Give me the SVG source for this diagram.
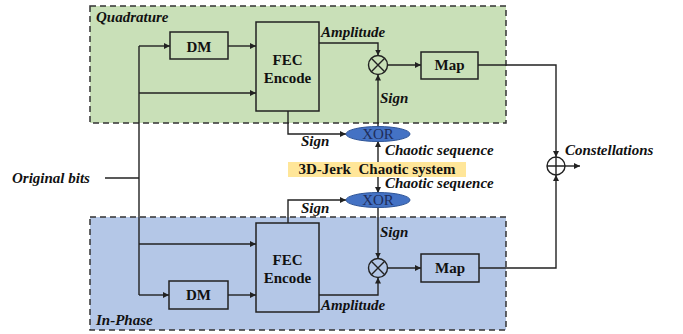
<svg xmlns="http://www.w3.org/2000/svg" width="683" height="334" viewBox="0 0 683 334">
<style>
.panel{stroke:#333;stroke-width:1.5;stroke-dasharray:6,4}
.box{fill:none;stroke:#222;stroke-width:1.5}
.ln{fill:none;stroke:#222;stroke-width:1.4}
.arr{marker-end:url(#ah)}
.t{font-family:"Liberation Serif","Times New Roman",serif;font-weight:bold;font-size:15px;fill:#111;text-anchor:middle}
.lb{font-family:"Liberation Serif","Times New Roman",serif;font-weight:bold;font-style:italic;font-size:15px;fill:#111}
.xor{fill:#4472C4;stroke:#2F5597;stroke-width:1}
.xt{font-family:"Liberation Serif","Times New Roman",serif;font-size:15px;fill:#1F2D5A;text-anchor:middle}
</style>
<defs>
<marker id="ah" viewBox="0 0 10 10" refX="10" refY="5" markerWidth="6" markerHeight="6" markerUnits="userSpaceOnUse" orient="auto">
<path d="M0,0 L10,5 L0,10 z" fill="#222"/>
</marker>
</defs>
<rect width="683" height="334" fill="#fff"/>

<g id="quadrature">
<rect class="panel" x="90" y="6" width="416" height="117" fill="#C9E0B8"/>
<text class="lb" x="96" y="22">Quadrature</text>
</g>
<g id="inphase">
<rect class="panel" x="90" y="217" width="416" height="113" fill="#B4C7E7"/>
<text class="lb" x="96" y="325">In-Phase</text>
</g>

<g id="connectors">
<!-- input trunk -->
<path class="ln" d="M105,178 H139"/>
<path class="ln" d="M139,46 V295"/>
<path class="ln arr" d="M139,46 H170"/>
<path class="ln arr" d="M139,93 H256"/>
<path class="ln arr" d="M228,46 H256"/>
<path class="ln arr" d="M139,244 H256"/>
<path class="ln arr" d="M139,295 H169"/>
<path class="ln arr" d="M228,295 H256"/>
<!-- top amplitude -->
<path class="ln arr" d="M319,43 H378 V55.5"/>
<!-- top sign to XOR -->
<path class="ln arr" d="M288,111 V134 H346"/>
<!-- top XOR to multiplier -->
<path class="ln arr" d="M378,127 V74.5"/>
<!-- chaotic sequences -->
<path class="ln arr" d="M378,163 V141"/>
<path class="ln arr" d="M378,177 V193"/>
<!-- lower sign to XOR -->
<path class="ln arr" d="M288,223 V200 H346"/>
<path class="ln arr" d="M378,207 V258.5"/>
<!-- lower amplitude -->
<path class="ln arr" d="M319,295 H378 V277.5"/>
<!-- multiplier to Map -->
<path class="ln arr" d="M387.5,65 H421"/>
<path class="ln arr" d="M387.5,268 H421"/>
<!-- Map to sum -->
<path class="ln arr" d="M478,65 H556 V157"/>
<path class="ln arr" d="M479,268 H556 V175"/>
<path class="ln arr" d="M565,166 H580"/>
</g>

<g id="dm-q">
<rect class="box" x="170" y="32" width="58" height="27"/>
<text class="t" x="199" y="52">DM</text>
</g>
<g id="fec-q">
<rect class="box" x="256" y="22" width="63" height="89"/>
<text class="t" x="287.5" y="65">FEC</text>
<text class="t" x="287.5" y="83">Encode</text>
</g>
<g id="mul-q">
<circle cx="378" cy="65" r="9.5" fill="none" stroke="#222" stroke-width="1.4"/>
<path class="ln" d="M371.3,58.3 L384.7,71.7 M384.7,58.3 L371.3,71.7"/>
</g>
<g id="map-q">
<rect class="box" x="421" y="52" width="57" height="27"/>
<text class="t" x="449.5" y="70">Map</text>
</g>

<g id="dm-i">
<rect class="box" x="169" y="281" width="59" height="28"/>
<text class="t" x="198.5" y="300">DM</text>
</g>
<g id="fec-i">
<rect class="box" x="256" y="223" width="63" height="89"/>
<text class="t" x="287.5" y="265">FEC</text>
<text class="t" x="287.5" y="283">Encode</text>
</g>
<g id="mul-i">
<circle cx="378" cy="268" r="9.5" fill="none" stroke="#222" stroke-width="1.4"/>
<path class="ln" d="M371.3,261.3 L384.7,274.7 M384.7,261.3 L371.3,274.7"/>
</g>
<g id="map-i">
<rect class="box" x="421" y="254" width="58" height="28"/>
<text class="t" x="450" y="273">Map</text>
</g>

<g id="xor-q">
<ellipse class="xor" cx="378" cy="134" rx="32" ry="7.5"/>
<text class="xt" x="378" y="139">XOR</text>
</g>
<g id="xor-i">
<ellipse class="xor" cx="378" cy="200" rx="32" ry="7.5"/>
<text class="xt" x="378" y="205">XOR</text>
</g>
<g id="jerk">
<rect x="288" y="162" width="178" height="15" fill="#FFE699"/>
<text class="t" x="377" y="174" style="white-space:pre">3D-Jerk  Chaotic system</text>
</g>
<g id="sum">
<circle cx="556" cy="166" r="9" fill="none" stroke="#222" stroke-width="1.4"/>
<path class="ln" d="M547,166 H565 M556,157 V175"/>
</g>

<g id="labels">
<text class="lb" x="12" y="183">Original bits</text>
<text class="lb" x="321" y="37">Amplitude</text>
<text class="lb" x="380" y="103">Sign</text>
<text class="lb" x="301" y="146">Sign</text>
<text class="lb" x="385" y="155">Chaotic sequence</text>
<text class="lb" x="385" y="188">Chaotic sequence</text>
<text class="lb" x="301" y="213">Sign</text>
<text class="lb" x="380" y="237">Sign</text>
<text class="lb" x="321" y="310">Amplitude</text>
<text class="lb" x="565" y="155">Constellations</text>
</g>
</svg>
